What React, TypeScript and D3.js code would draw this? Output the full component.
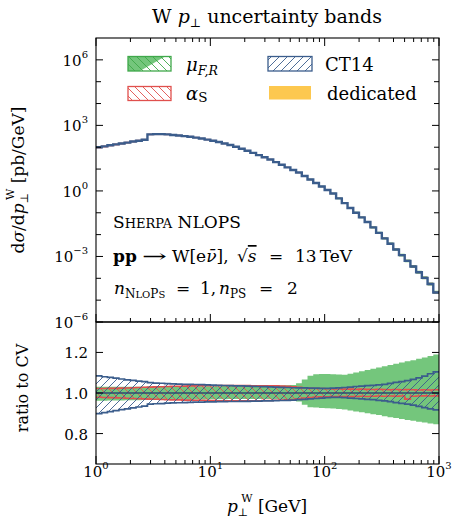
import React from "react";
import * as d3 from "d3";

// bin edges (GeV)
const binEdges = [1, 1.122, 1.259, 1.413, 1.585, 1.778, 1.995, 2.239, 2.512, 2.818, 3.162, 3.548, 3.981, 4.467, 5.012, 5.623, 6.31, 7.079, 7.943, 8.913, 10.0, 11.22, 12.59, 14.13, 15.85, 17.78, 19.95, 22.39, 25.12, 28.18, 31.62, 35.48, 39.81, 44.67, 50.12, 56.23, 63.1, 70.79, 79.43, 89.13, 100.0, 112.2, 125.9, 141.3, 158.5, 177.8, 199.5, 223.9, 251.2, 281.8, 316.2, 354.8, 398.1, 446.7, 501.2, 562.3, 631.0, 707.9, 794.3, 891.3, 1000];

// log10 of dsigma/dpT [pb/GeV] per bin
const logXsec = [2.0, 2.04, 2.09, 2.13, 2.17, 2.21, 2.26, 2.3, 2.34, 2.59, 2.6, 2.6, 2.59, 2.56, 2.54, 2.51, 2.48, 2.44, 2.4, 2.35, 2.3, 2.24, 2.17, 2.1, 2.02, 1.93, 1.84, 1.74, 1.64, 1.54, 1.44, 1.32, 1.2, 1.08, 0.96, 0.84, 0.68, 0.52, 0.36, 0.2, 0.04, -0.12, -0.34, -0.56, -0.78, -1.0, -1.21, -1.42, -1.67, -1.92, -2.17, -2.42, -2.68, -2.94, -3.2, -3.46, -3.72, -3.98, -4.26, -4.65];

// ratio bands
const ct14Up = [1.084, 1.08, 1.077, 1.073, 1.069, 1.065, 1.062, 1.059, 1.056, 1.051, 1.049, 1.048, 1.046, 1.045, 1.044, 1.043, 1.043, 1.042, 1.041, 1.04, 1.039, 1.038, 1.037, 1.036, 1.035, 1.035, 1.034, 1.033, 1.032, 1.031, 1.03, 1.029, 1.028, 1.027, 1.026, 1.025, 1.025, 1.024, 1.024, 1.023, 1.023, 1.024, 1.025, 1.027, 1.029, 1.032, 1.034, 1.036, 1.038, 1.04, 1.043, 1.047, 1.052, 1.056, 1.061, 1.067, 1.075, 1.083, 1.095, 1.104];
const ct14Lo = [0.898, 0.903, 0.908, 0.913, 0.918, 0.922, 0.927, 0.931, 0.935, 0.945, 0.947, 0.948, 0.95, 0.951, 0.952, 0.953, 0.954, 0.955, 0.955, 0.956, 0.956, 0.957, 0.957, 0.958, 0.958, 0.959, 0.959, 0.96, 0.96, 0.961, 0.961, 0.962, 0.963, 0.964, 0.965, 0.967, 0.969, 0.971, 0.973, 0.975, 0.977, 0.978, 0.978, 0.977, 0.975, 0.973, 0.971, 0.969, 0.967, 0.964, 0.961, 0.957, 0.953, 0.949, 0.945, 0.94, 0.934, 0.928, 0.922, 0.917];
const muUp = [1.031, 1.031, 1.031, 1.031, 1.031, 1.031, 1.031, 1.031, 1.031, 1.032, 1.032, 1.032, 1.032, 1.032, 1.032, 1.032, 1.033, 1.033, 1.033, 1.033, 1.033, 1.033, 1.034, 1.034, 1.034, 1.034, 1.035, 1.035, 1.035, 1.036, 1.036, 1.037, 1.037, 1.038, 1.04, 1.048, 1.066, 1.085, 1.092, 1.094, 1.094, 1.093, 1.091, 1.09, 1.095, 1.101, 1.107, 1.113, 1.119, 1.126, 1.132, 1.138, 1.144, 1.15, 1.156, 1.162, 1.169, 1.175, 1.182, 1.19];
const muLo = [0.962, 0.962, 0.963, 0.963, 0.963, 0.964, 0.964, 0.964, 0.965, 0.965, 0.965, 0.966, 0.966, 0.966, 0.967, 0.967, 0.967, 0.968, 0.968, 0.968, 0.969, 0.969, 0.969, 0.97, 0.97, 0.97, 0.971, 0.971, 0.971, 0.971, 0.97, 0.97, 0.969, 0.968, 0.966, 0.958, 0.942, 0.93, 0.928, 0.926, 0.925, 0.923, 0.921, 0.919, 0.914, 0.909, 0.905, 0.9, 0.895, 0.891, 0.886, 0.881, 0.877, 0.872, 0.867, 0.863, 0.858, 0.854, 0.85, 0.846];
const asUp = [1.022, 1.022, 1.023, 1.023, 1.024, 1.025, 1.026, 1.027, 1.028, 1.029, 1.03, 1.031, 1.032, 1.033, 1.033, 1.034, 1.035, 1.035, 1.036, 1.036, 1.036, 1.037, 1.037, 1.037, 1.037, 1.037, 1.037, 1.036, 1.036, 1.036, 1.035, 1.035, 1.034, 1.033, 1.031, 1.028, 1.025, 1.023, 1.022, 1.022, 1.021, 1.02, 1.02, 1.019, 1.019, 1.018, 1.019, 1.018, 1.017, 1.018, 1.017, 1.016, 1.017, 1.016, 1.017, 1.016, 1.015, 1.016, 1.015, 1.016];
const asLo = [0.979, 0.978, 0.977, 0.976, 0.975, 0.974, 0.973, 0.972, 0.971, 0.97, 0.969, 0.968, 0.967, 0.966, 0.966, 0.965, 0.965, 0.964, 0.964, 0.963, 0.963, 0.962, 0.962, 0.962, 0.962, 0.962, 0.962, 0.962, 0.962, 0.963, 0.963, 0.964, 0.965, 0.966, 0.968, 0.971, 0.975, 0.978, 0.98, 0.981, 0.981, 0.982, 0.982, 0.983, 0.982, 0.983, 0.984, 0.983, 0.984, 0.985, 0.984, 0.985, 0.984, 0.985, 0.97, 0.984, 0.985, 0.986, 0.985, 0.986];

const xMajor = [1, 10, 100, 1000];
const xMajorExp = ["0", "1", "2", "3"];
const yMainMajorExp = [-6, -3, 0, 3, 6];
const ratioTicks = [0.8, 1.0, 1.2];

const GREEN = "#74c67c";
const GREEN_D = "#3fa84a";
const RED = "#e0504d";
const BLUE = "#3b5d8c";
const ORANGE = "#fdc84f";
const FONT = "DejaVu Serif";

export default function App() {
  const L = 96, R = 439, T = 38, MB = 322, RB = 464;
  const x = d3.scaleLog().domain([1, 1000]).range([L, R]);
  const yM = d3.scaleLog().domain([1e-6, 1e7]).range([MB, T]);
  const yR = d3.scaleLinear().domain([0.65, 1.35]).range([RB, MB]);

  const idx = binEdges.map((_, i) => Math.min(i, logXsec.length - 1));
  const mainLine = d3.line<number>().x((i, k) => x(binEdges[k])).y((i) => yM(Math.pow(10, logXsec[i]))).curve(d3.curveStepAfter)(idx) as string;

  const band = (lo: number[], hi: number[]) =>
    d3.area<number>().x((i, k) => x(binEdges[k])).y0((i) => yR(lo[i])).y1((i) => yR(hi[i])).curve(d3.curveStepAfter)(idx) as string;
  const edge = (v: number[]) =>
    d3.line<number>().x((i, k) => x(binEdges[k])).y((i) => yR(v[i])).curve(d3.curveStepAfter)(idx) as string;
  const mainBand = (lo: number[], hi: number[]) =>
    d3.area<number>().x((i, k) => x(binEdges[k])).y0((i) => yM(Math.pow(10, logXsec[i]) * lo[i])).y1((i) => yM(Math.pow(10, logXsec[i]) * hi[i])).curve(d3.curveStepAfter)(idx) as string;

  const xMinor: number[] = [];
  for (const dec of [1, 10, 100]) for (let m = 2; m <= 9; m++) xMinor.push(dec * m);
  const yMinor: number[] = [];
  for (let e = -5; e <= 6; e++) if (!yMainMajorExp.includes(e)) yMinor.push(Math.pow(10, e));

  const tk = { stroke: "#000", strokeWidth: 1 };

  return (
    <svg width={452} height={519} style={{ position: "absolute", left: 0, top: 0, background: "#fff" }} fontFamily={FONT}>
      <defs>
        <pattern id="hBlue" patternUnits="userSpaceOnUse" width="8" height="8">
          <path d="M-2,2 l4,-4 M0,8 l8,-8 M6,10 l4,-4" stroke={BLUE} strokeWidth="0.9" />
        </pattern>
        <pattern id="hRed" patternUnits="userSpaceOnUse" width="8" height="8">
          <path d="M-2,6 l4,4 M0,0 l8,8 M6,-2 l4,4" stroke={RED} strokeWidth="0.9" />
        </pattern>
        <pattern id="hGreen" patternUnits="userSpaceOnUse" width="8" height="8">
          <path d="M-2,6 l4,4 M0,0 l8,8 M6,-2 l4,4" stroke={GREEN_D} strokeWidth="0.9" />
        </pattern>
        <clipPath id="clipR"><rect x={L} y={MB} width={R - L} height={RB - MB} /></clipPath>
        <clipPath id="clipM"><rect x={L} y={T} width={R - L} height={MB - T} /></clipPath>
      </defs>

      {/* title */}
      <text x={267} y={23} textAnchor="middle" fontSize={19}>
        W <tspan fontStyle="italic">p</tspan><tspan fontSize={12} dy={4}>⊥</tspan><tspan dy={-4}> uncertainty bands</tspan>
      </text>

      {/* main panel */}
      <g clipPath="url(#clipM)">
        <path d={mainBand(muLo, muUp)} fill={GREEN} />
        <path d={mainBand(ct14Lo, ct14Up)} fill="none" stroke={RED} strokeWidth={1} opacity={0.5} />
        <path d={mainLine} fill="none" stroke={BLUE} strokeWidth={2.4} />
      </g>
      <rect x={L} y={T} width={R - L} height={MB - T} fill="none" stroke="#000" strokeWidth={1.1} />

      {/* main y ticks */}
      {yMainMajorExp.map((e) => (
        <g key={"ym" + e}>
          <line x1={L} x2={L + 7} y1={yM(Math.pow(10, e))} y2={yM(Math.pow(10, e))} {...tk} />
          <line x1={R} x2={R - 7} y1={yM(Math.pow(10, e))} y2={yM(Math.pow(10, e))} {...tk} />
          <text x={88} y={yM(Math.pow(10, e)) + 6} textAnchor="end" fontSize={15}>
            10<tspan fontSize={10} dy={-8}>{e < 0 ? "−" + -e : String(e)}</tspan>
          </text>
        </g>
      ))}
      {yMinor.map((v, k) => (
        <g key={"ymn" + k}>
          <line x1={L} x2={L + 5} y1={yM(v)} y2={yM(v)} {...tk} />
          <line x1={R} x2={R - 5} y1={yM(v)} y2={yM(v)} {...tk} />
        </g>
      ))}
      {/* x ticks */}
      {xMajor.map((v, k) => (
        <g key={"xm" + k}>
          <line x1={x(v)} x2={x(v)} y1={T} y2={T + 8} {...tk} />
          <line x1={x(v)} x2={x(v)} y1={MB} y2={MB - 8} {...tk} />
          <line x1={x(v)} x2={x(v)} y1={RB} y2={RB - 8} {...tk} />
        </g>
      ))}
      {xMinor.map((v, k) => (
        <g key={"xmn" + k}>
          <line x1={x(v)} x2={x(v)} y1={T} y2={T + 4} {...tk} />
          <line x1={x(v)} x2={x(v)} y1={MB} y2={MB - 4} {...tk} />
          <line x1={x(v)} x2={x(v)} y1={RB} y2={RB - 4} {...tk} />
        </g>
      ))}

      {/* legend */}
      <g>
        <rect x={128} y={56.5} width={43} height={14.5} fill="#fff" />
        <polygon points="128,56.5 165,56.5 140,71 128,71" fill={GREEN} />
        <rect x={128} y={56.5} width={43} height={14.5} fill="url(#hGreen)" stroke={GREEN_D} strokeWidth={1.3} />
        <rect x={128} y={86.5} width={43} height={14} fill="url(#hRed)" stroke={RED} strokeWidth={1.3} />
        <rect x={268} y={56.5} width={44} height={14.5} fill="url(#hBlue)" stroke={BLUE} strokeWidth={1.3} />
        <rect x={269} y={86} width={42} height={13.5} fill={ORANGE} />
        <text x={186} y={71} fontSize={18}>
          <tspan fontStyle="italic">μ</tspan><tspan fontSize={12.5} dy={4} fontStyle="italic">F,R</tspan>
        </text>
        <text x={186} y={100} fontSize={18}>
          <tspan fontStyle="italic">α</tspan><tspan fontSize={13.5} dy={2}>S</tspan>
        </text>
        <text x={325} y={71} fontSize={18}>CT14</text>
        <text x={327} y={100} fontSize={18}>dedicated</text>
      </g>

      {/* annotations */}
      <text x={113} y={228} fontSize={17}>
        S<tspan fontSize={13}>HERPA</tspan> NLOPS
      </text>
      <text y={262} fontSize={17}>
        <tspan x={113} fontWeight="bold">pp</tspan>
        <tspan x={142} textLength={25} lengthAdjust="spacingAndGlyphs">→</tspan>
        <tspan x={172}>W[e</tspan><tspan fontStyle="italic">ν̄</tspan><tspan>],</tspan>
        <tspan x={237}>√</tspan><tspan fontStyle="italic" textDecoration="overline">s</tspan>
        <tspan x={269}>=</tspan>
        <tspan x={295}>13</tspan><tspan dx={3}>TeV</tspan>
      </text>
      <text y={294} fontSize={17}>
        <tspan x={114} fontStyle="italic">n</tspan><tspan fontSize={12} dy={4}>N<tspan fontSize={10}>LO</tspan>P<tspan fontSize={10}>S</tspan></tspan>
        <tspan x={176} dy={-4}>=</tspan>
        <tspan x={200}>1,</tspan>
        <tspan x={219} fontStyle="italic">n</tspan><tspan fontSize={12} dy={4}>PS</tspan>
        <tspan x={259} dy={-4}>=</tspan>
        <tspan x={287}>2</tspan>
      </text>

      {/* ratio panel */}
      <g clipPath="url(#clipR)">
        <path d={band(muLo, muUp)} fill={GREEN} />
        <path d={band(asLo, asUp)} fill="url(#hRed)" />
        <path d={edge(asUp)} fill="none" stroke={RED} strokeWidth={1.6} />
        <path d={edge(asLo)} fill="none" stroke={RED} strokeWidth={1.6} />
        <path d={band(ct14Lo, ct14Up)} fill="url(#hBlue)" />
        <path d={edge(ct14Up)} fill="none" stroke={BLUE} strokeWidth={1.7} />
        <path d={edge(ct14Lo)} fill="none" stroke={BLUE} strokeWidth={1.7} />
        <line x1={L} x2={R} y1={yR(1)} y2={yR(1)} stroke="#2e4a72" strokeWidth={1.6} />
      </g>
      <rect x={L} y={MB} width={R - L} height={RB - MB} fill="none" stroke="#000" strokeWidth={1.1} />
      {ratioTicks.map((v) => (
        <g key={"r" + v}>
          <line x1={L} x2={L + 7} y1={yR(v)} y2={yR(v)} {...tk} />
          <line x1={R} x2={R - 7} y1={yR(v)} y2={yR(v)} {...tk} />
          <text x={88} y={yR(v) + 6} textAnchor="end" fontSize={15}>{v.toFixed(1)}</text>
        </g>
      ))}

      {/* x tick labels */}
      {xMajor.map((v, k) => (
        <text key={"xl" + k} x={x(v)} y={477} textAnchor="middle" fontSize={15}>
          10<tspan fontSize={10} dy={-8}>{xMajorExp[k]}</tspan>
        </text>
      ))}

      {/* axis labels */}
      <text x={267} y={512} textAnchor="middle" fontSize={17}>
        <tspan fontStyle="italic">p</tspan><tspan fontSize={11} dy={4}>⊥</tspan><tspan fontSize={11} dx={-7} dy={-14}>W</tspan><tspan dy={10}> [GeV]</tspan>
      </text>
      <text transform="translate(24,180) rotate(-90)" textAnchor="middle" fontSize={17}>
        d<tspan fontStyle="italic">σ</tspan>/d<tspan fontStyle="italic">p</tspan><tspan fontSize={11} dy={4}>⊥</tspan><tspan fontSize={11} dx={-7} dy={-14}>W</tspan><tspan dy={10}> [pb/GeV]</tspan>
      </text>
      <text transform="translate(28,388) rotate(-90)" textAnchor="middle" fontSize={16}>ratio to CV</text>
    </svg>
  );
}
